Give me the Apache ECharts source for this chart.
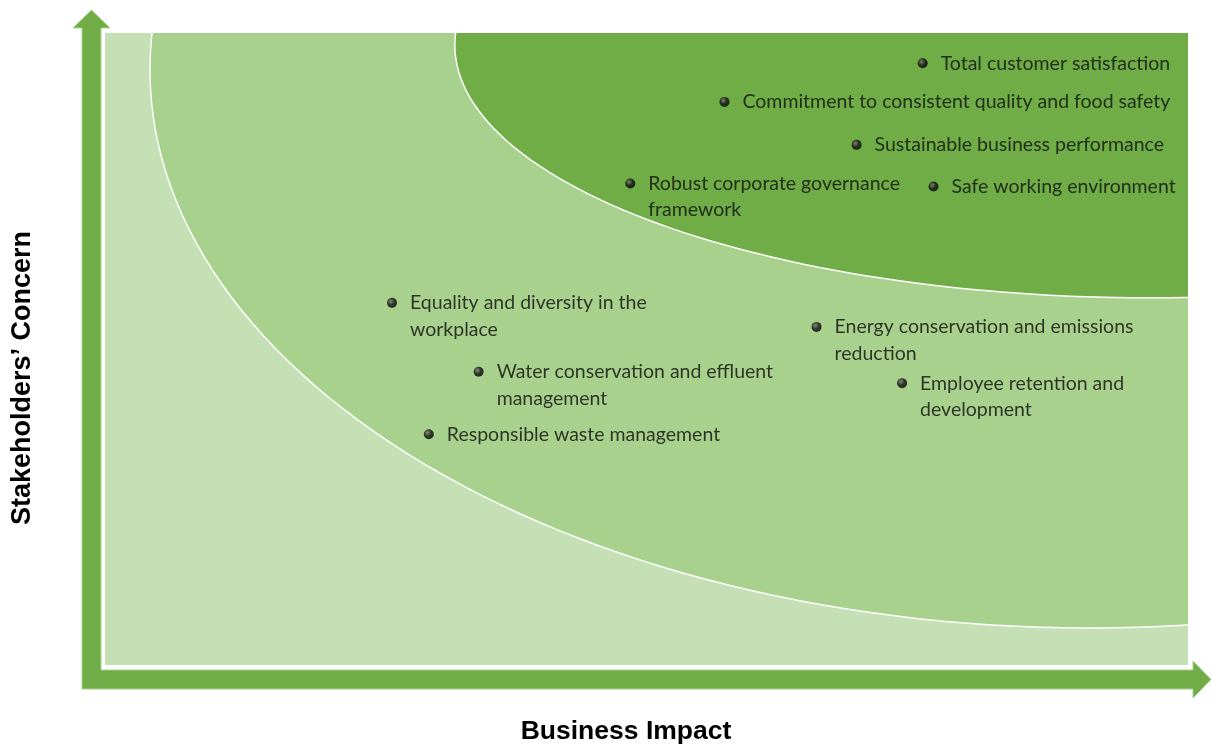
<!DOCTYPE html>
<html>
<head>
<meta charset="utf-8">
<script src="https://cdn.jsdelivr.net/npm/echarts@6/dist/echarts.min.js"></script>
<style>
html,body{margin:0;padding:0;background:#fff;}
#chart{width:1212px;height:746px;}
</style>
</head>
<body>
<div id="chart"></div>
<script>
// ---- data ----
const issues = [
  'Total customer satisfaction',
  'Commitment to consistent quality and food safety',
  'Sustainable business performance',
  'Robust corporate governance\nframework',
  'Safe working environment',
  'Equality and diversity in the\nworkplace',
  'Energy conservation and emissions\nreduction',
  'Water conservation and effluent\nmanagement',
  'Employee retention and\ndevelopment',
  'Responsible waste management'
];
const businessImpact = [75.5, 57.2, 69.4, 48.5, 76.5, 26.5, 65.7, 34.5, 73.6, 29.9];
const stakeholderConcern = [95.2, 89.1, 82.3, 76.2, 75.7, 57.3, 53.5, 46.4, 44.6, 36.5];

// materiality tiers (ellipse centre x, centre y, radius x, radius y in axis units)
const tierCentreX = [90.95, 96.5];
const tierCentreY = [94.15, 98.1];
const tierRadiusX = [86.8, 64.2];
const tierRadiusY = [88.3, 40.0];
const tierColors = ['#A9D18E', '#70AD47'];

const chart = echarts.init(document.getElementById('chart'), null, {renderer: 'canvas'});

function ellipseItem(params, api) {
  const i = params.dataIndex;
  const pts = [];
  const n = 240;
  for (let k = 0; k < n; k++) {
    const t = 2 * Math.PI * k / n;
    pts.push(api.coord([tierCentreX[i] + tierRadiusX[i] * Math.cos(t),
                        tierCentreY[i] + tierRadiusY[i] * Math.sin(t)]));
  }
  return {
    type: 'polygon',
    shape: {points: pts},
    style: {fill: tierColors[i], stroke: '#ffffff', lineWidth: 1.5}
  };
}

const points = businessImpact.map((x, i) => ({name: issues[i], value: [x, stakeholderConcern[i]]}));

const option = {
  animation: false,
  grid: {left: 105, top: 33, width: 1083, height: 632, show: true,
         backgroundColor: '#C5E0B4', borderColor: '#ffffff', borderWidth: 0},
  xAxis: {type: 'value', min: 0, max: 100, show: false},
  yAxis: {type: 'value', min: 0, max: 100, show: false},
  graphic: [
    {
      type: 'polygon', z: 1,
      shape: {points: [[82,689],[82,28],[73,28],[91.5,10],[110,28],[101,28],[101,670],
                       [1193,670],[1193,661],[1211,679.5],[1193,698],[1193,689]]},
      style: {fill: '#70AD47', stroke: '#A9D18E', lineWidth: 1}
    },
    {
      type: 'text', z: 5,
      x: 626, y: 732,
      style: {text: 'Business Impact', font: 'bold 26.5px "Liberation Sans", Arial, sans-serif',
              fill: '#000', align: 'center', verticalAlign: 'middle'}
    },
    {
      type: 'text', z: 5,
      x: 23, y: 378, rotation: Math.PI / 2,
      style: {text: 'Stakeholders\u2019 Concern', font: 'bold 27px "Liberation Sans", Arial, sans-serif',
              fill: '#000', align: 'center', verticalAlign: 'middle'}
    }
  ],
  series: [
    {
      type: 'custom', clip: true, silent: true, z: 1,
      renderItem: ellipseItem,
      data: [0, 1]
    },
    {
      type: 'scatter', z: 5,
      symbol: 'circle', symbolSize: 10,
      itemStyle: {
        color: {type: 'radial', x: 0.38, y: 0.35, r: 0.7,
                colorStops: [{offset: 0, color: '#7a7a7a'}, {offset: 0.5, color: '#111'}, {offset: 1, color: '#000'}]}
      },
      label: {
        show: true, position: 'inside', align: 'left', verticalAlign: 'top',
        offset: [18, -13],
        formatter: p => p.name,
        fontFamily: 'Lato, "Noto Sans", sans-serif', fontSize: 19.5, lineHeight: 26.5,
        color: '#0d0d0d'
      },
      data: points
    }
  ]
};
chart.setOption(option);
</script>
</body>
</html>
